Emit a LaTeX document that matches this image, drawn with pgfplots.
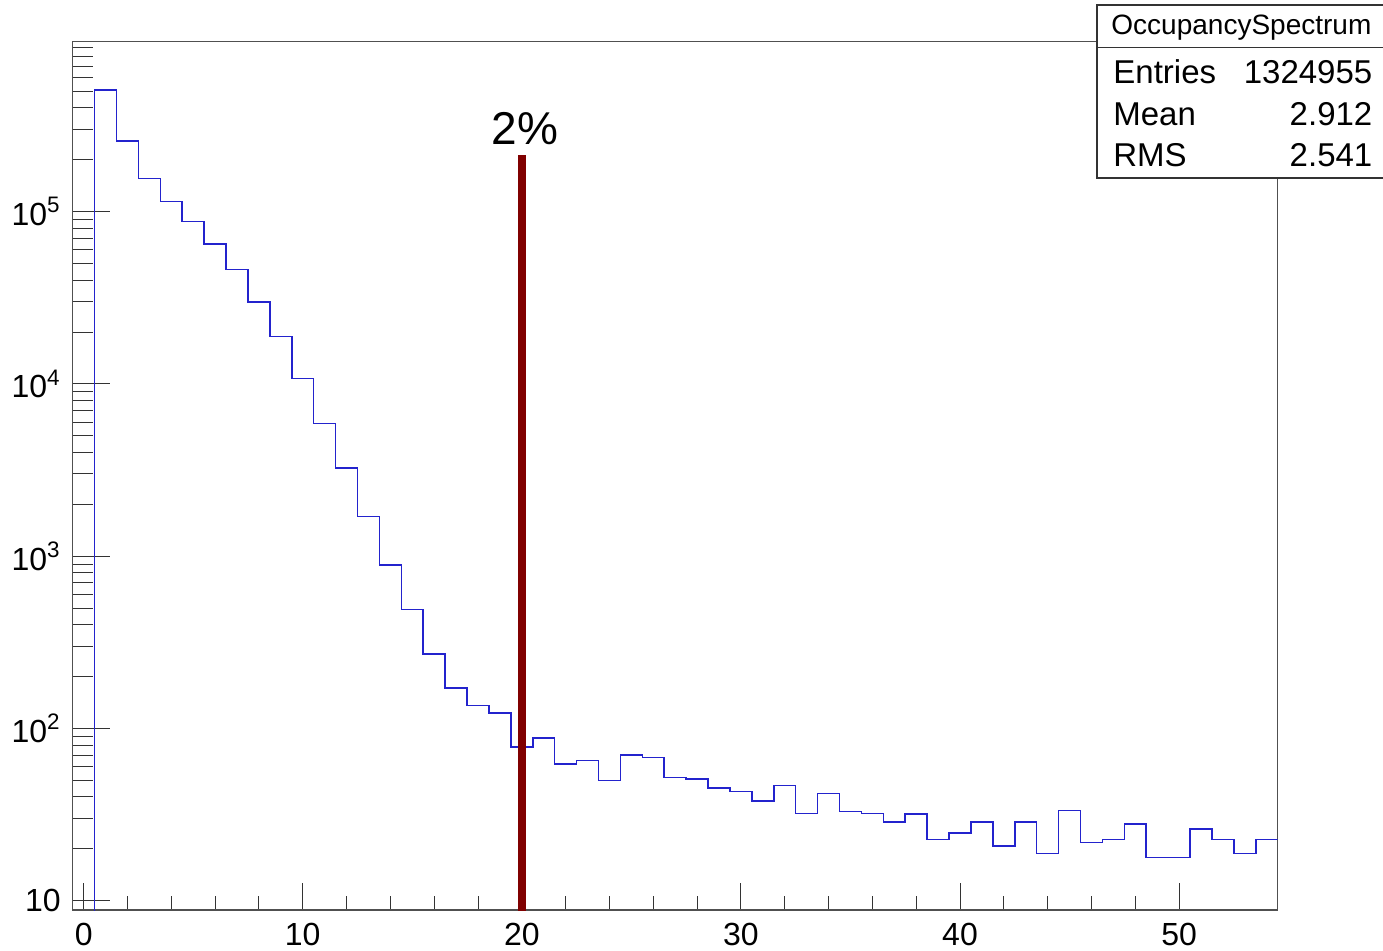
\documentclass[border=0pt]{standalone}
\usepackage{fontspec}
\setmainfont{Liberation Sans}
\usepackage{pgfplots}
\pgfplotsset{compat=1.18}
\definecolor{histblue}{RGB}{35,35,205}
\definecolor{darkred}{RGB}{128,0,0}
\definecolor{framegray}{RGB}{80,80,80}
\begin{document}
\begin{tikzpicture}[x=1pt,y=1pt]
\path[use as bounding box] (0,0) rectangle (691.5,475);
\begin{axis}[
  at={(36.35pt,20pt)}, anchor=south west,
  scale only axis, width=602.5pt, height=434.15pt,
  xmin=-0.5, xmax=54.5,
  ymode=log, ymin=8.83, ymax=9.7e5,
  xtick={0,10,20,30,40,50},
  xticklabels={0,10,20,30,40,50},
  minor x tick num=4,
  ytick={10,100,1000,10000,100000},
  yticklabels={10,10\textsuperscript{2},10\textsuperscript{3},10\textsuperscript{4},10\textsuperscript{5}},
  minor ytick={20,30,40,50,60,70,80,90,200,300,400,500,600,700,800,900,2000,3000,4000,5000,6000,7000,8000,9000,20000,30000,40000,50000,60000,70000,80000,90000,200000,300000,400000,500000,600000,700000,800000,900000},
  tick align=inside, tick pos=left,
  xtick style={/pgfplots/major tick length=13.5pt,/pgfplots/minor tick length=7pt,black!80,line width=0.5pt},
  ytick style={/pgfplots/major tick length=18.5pt,/pgfplots/minor tick length=10pt,black!80,line width=0.5pt},
  axis line style={framegray,line width=0.6pt},
  ticklabel style={font=\fontsize{16}{19}\selectfont},
  xticklabel style={anchor=north,inner sep=0pt,yshift=-6.3pt},
  yticklabel style={anchor=east,inner sep=0pt,xshift=-5.8pt},
  clip=true,
]
\addplot[const plot, histblue, line width=0.75pt] coordinates {
(-0.5,1) (0.5,509000) (1.5,257000) (2.5,156300) (3.5,114900) (4.5,87500)
(5.5,64700) (6.5,46100) (7.5,29800) (8.5,18800) (9.5,10730)
(10.5,5910) (11.5,3250) (12.5,1696) (13.5,889) (14.5,489)
(15.5,270) (16.5,172) (17.5,136) (18.5,123) (19.5,78)
(20.5,88) (21.5,62) (22.5,65) (23.5,50) (24.5,70)
(25.5,68) (26.5,52) (27.5,51) (28.5,45) (29.5,43)
(30.5,38) (31.5,46.5) (32.5,32) (33.5,42) (34.5,33)
(35.5,32) (36.5,28.6) (37.5,31.9) (38.5,22.6) (39.5,24.7)
(40.5,28.7) (41.5,20.8) (42.5,28.7) (43.5,18.8) (44.5,33.5)
(45.5,21.8) (46.5,22.6) (47.5,27.9) (48.5,17.8) (49.5,17.8)
(50.5,26) (51.5,22.6) (52.5,18.8) (53.5,22.6) (54.5,22.6)
};
\addplot[darkred, line width=4.15pt] coordinates {(20,1) (20,2.13e5)};
\node[anchor=base, font=\fontsize{23}{27}\selectfont, inner sep=0pt] at (axis cs:20.15,2.46e5) {2\%};
\end{axis}
\draw[draw=black!80, fill=white, line width=0.7pt] (548.5,386) rectangle (693,472.5);
\draw[draw=black!80, line width=0.7pt] (548.5,451.15) -- (693,451.15);
\node[anchor=base, inner sep=0pt, font=\fontsize{14}{17}\selectfont] at (620.7,457.5) {OccupancySpectrum};
\node[anchor=base west, inner sep=0pt, font=\fontsize{16.5}{20}\selectfont] at (556.5,433.35) {Entries};
\node[anchor=base east, inner sep=0pt, font=\fontsize{16.5}{20}\selectfont] at (686.35,433.35) {1324955};
\node[anchor=base west, inner sep=0pt, font=\fontsize{16.5}{20}\selectfont] at (556.5,412.35) {Mean};
\node[anchor=base east, inner sep=0pt, font=\fontsize{16.5}{20}\selectfont] at (686.35,412.35) {2.912};
\node[anchor=base west, inner sep=0pt, font=\fontsize{16.5}{20}\selectfont] at (556.5,391.65) {RMS};
\node[anchor=base east, inner sep=0pt, font=\fontsize{16.5}{20}\selectfont] at (686.35,391.65) {2.541};
\end{tikzpicture}
\end{document}
